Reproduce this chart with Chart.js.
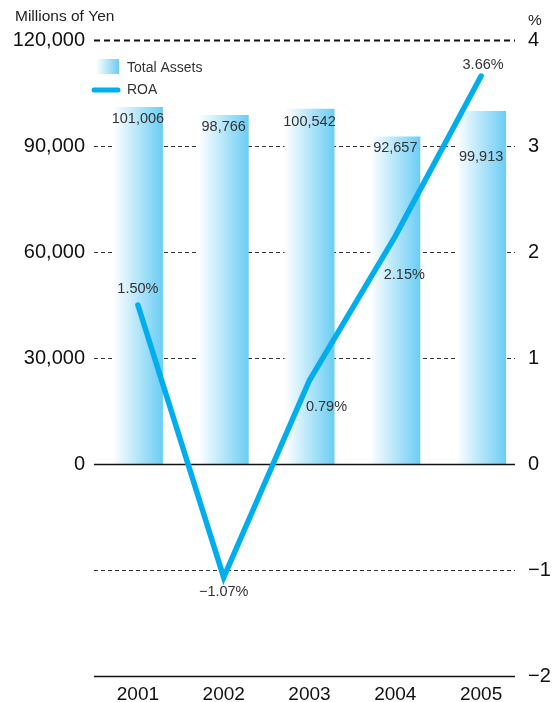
<!DOCTYPE html>
<html>
<head>
<meta charset="utf-8">
<script src="https://cdn.jsdelivr.net/npm/chart.js@4/dist/chart.umd.min.js"></script>
<style>
  html, body { margin: 0; padding: 0; background: #fff; }
  #wrap { width: 555px; height: 702px; position: relative; }
</style>
</head>
<body>
<div id="wrap"><canvas id="c"></canvas></div>
<script>
// Fiscal years and figures
const years = ['2001', '2002', '2003', '2004', '2005'];
const totalAssets = [101006, 98766, 100542, 92657, 99913];   // millions of yen
const roa = [1.50, -1.07, 0.79, 2.15, 3.66];                  // percent
const assetTickStep = 30000;
const roaTickStep = 1;

const FONT = "'Liberation Sans', Arial, Helvetica, sans-serif";
const LINE_BLUE = '#00aeef';
const BAR_PCT = 0.583;

// label nudges (pixels) for the printed values
const barLabelDy = [12, 12, 13, 11, 46];
const roaLabelShift = [[0, -16], [0, 15], [17, 27], [9, 39], [2, -11]];

function barGradient(c) {
  const chart = c.chart;
  const xs = chart.scales && chart.scales.x;
  if (!xs || c.dataIndex === undefined || !xs.width) return '#8fd8f6';
  const cx = xs.getPixelForValue(c.dataIndex);
  const w = xs.width / years.length * BAR_PCT;
  const g = chart.ctx.createLinearGradient(cx - w / 2, 0, cx + w / 2, 0);
  g.addColorStop(0, '#ffffff');
  g.addColorStop(1, '#6acdf4');
  return g;
}

function fmtThousands(v) {
  return v.toLocaleString('en-US');
}

function fmtSigned(v) {
  return v < 0 ? '\u2212' + Math.abs(v) : String(v);
}

const decorPlugin = {
  id: 'decor',
  beforeDatasetsDraw(chart) {
    const ctx = chart.ctx;
    const y = chart.scales.y;
    const left = chart.chartArea.left - 1;
    const right = chart.chartArea.right - 9;
    ctx.save();
    y.ticks.forEach((t) => {
      const py = Math.round(y.getPixelForValue(t.value)) + 0.5;
      if (t.value === 0) return;
      ctx.beginPath();
      if (t.value === y.min) {
        ctx.setLineDash([]);
        ctx.lineWidth = 1.5;
        ctx.strokeStyle = '#111';
      } else if (t.value === y.max) {
        ctx.setLineDash([6, 4]);
        ctx.lineWidth = 2;
        ctx.strokeStyle = '#111';
      } else {
        ctx.setLineDash([4, 3]);
        ctx.lineWidth = 1;
        ctx.strokeStyle = '#333';
      }
      ctx.moveTo(left, py);
      ctx.lineTo(right, py);
      ctx.stroke();
    });
    ctx.restore();
  },
  afterDatasetDraw(chart, args) {
    if (chart.data.datasets[args.index].type !== 'bar') return;
    // zero baseline drawn over the bar bottoms, under the ROA line
    const ctx = chart.ctx;
    const y = chart.scales.y;
    const py = Math.round(y.getPixelForValue(0)) + 0.5;
    ctx.save();
    ctx.beginPath();
    ctx.lineWidth = 1.5;
    ctx.strokeStyle = '#111';
    ctx.moveTo(chart.chartArea.left - 1, py);
    ctx.lineTo(chart.chartArea.right - 9, py);
    ctx.stroke();
    ctx.restore();
  },
  afterDatasetsDraw(chart) {
    const ctx = chart.ctx;
    ctx.save();
    ctx.fillStyle = '#333';
    ctx.textAlign = 'center';
    ctx.textBaseline = 'middle';
    ctx.font = '14.5px ' + FONT;

    const barIdx = chart.data.datasets.findIndex(d => d.type === 'bar');
    const lineIdx = chart.data.datasets.findIndex(d => d.type === 'line');
    chart.getDatasetMeta(barIdx).data.forEach((el, i) => {
      ctx.fillText(fmtThousands(totalAssets[i]), el.x, el.y + barLabelDy[i]);
    });
    chart.getDatasetMeta(lineIdx).data.forEach((el, i) => {
      const s = roaLabelShift[i];
      const txt = (roa[i] < 0 ? '\u2212' + Math.abs(roa[i]).toFixed(2) : roa[i].toFixed(2)) + '%';
      ctx.fillText(txt, el.x + s[0], el.y + s[1]);
    });

    // unit captions
    ctx.fillStyle = '#222';
    ctx.textAlign = 'left';
    ctx.font = '15.5px ' + FONT;
    ctx.fillText('Millions of Yen', 15, 17);
    ctx.fillText('%', 528, 21);

    // legend
    const sw = ctx.createLinearGradient(96, 0, 119, 0);
    sw.addColorStop(0, '#ffffff');
    sw.addColorStop(1, '#6acdf4');
    ctx.fillStyle = sw;
    ctx.fillRect(96, 59, 23, 15);
    ctx.strokeStyle = LINE_BLUE;
    ctx.lineWidth = 5;
    ctx.lineCap = 'round';
    ctx.beginPath();
    ctx.moveTo(94, 90);
    ctx.lineTo(118, 90);
    ctx.stroke();
    ctx.fillStyle = '#333';
    ctx.font = '14px ' + FONT;
    ctx.fillText(chart.data.datasets[barIdx].label, 127, 68);
    ctx.fillText(chart.data.datasets[lineIdx].label, 127, 90);
    ctx.restore();
  }
};

new Chart(document.getElementById('c'), {
  data: {
    labels: years,
    datasets: [
      {
        type: 'line',
        label: 'ROA',
        data: roa,
        yAxisID: 'y2',
        borderColor: LINE_BLUE,
        borderWidth: 5.5,
        borderCapStyle: 'round',
        borderJoinStyle: 'miter',
        pointRadius: 0,
        pointHoverRadius: 0,
        tension: 0,
        fill: false,
        order: 0
      },
      {
        type: 'bar',
        label: 'Total Assets',
        data: totalAssets,
        yAxisID: 'y',
        backgroundColor: barGradient,
        borderWidth: 0,
        barPercentage: BAR_PCT,
        categoryPercentage: 1,
        order: 1
      }
    ]
  },
  options: {
    responsive: true,
    maintainAspectRatio: false,
    animation: false,
    events: [],
    layout: { padding: { top: 40, left: 0, right: 0, bottom: 0 } },
    plugins: {
      legend: { display: false },
      tooltip: { enabled: false }
    },
    scales: {
      x: {
        grid: { display: false, drawTicks: false },
        border: { display: false },
        ticks: { color: '#111', font: { family: FONT, size: 19 }, padding: 7, maxRotation: 0 },
        afterFit(s) { s.height = 26; }
      },
      y: {
        position: 'left',
        min: -2 * assetTickStep,
        max: 4 * assetTickStep,
        grid: { display: false, drawTicks: false },
        border: { display: false },
        ticks: {
          stepSize: assetTickStep,
          color: '#111',
          font: { family: FONT, size: 20 },
          padding: 10,
          callback: (v) => (v < 0 ? '' : fmtThousands(v))
        },
        afterFit(s) { s.width = 95; }
      },
      y2: {
        position: 'right',
        min: -2 * roaTickStep,
        max: 4 * roaTickStep,
        grid: { display: false, drawTicks: false },
        border: { display: false },
        ticks: {
          stepSize: roaTickStep,
          color: '#111',
          font: { family: FONT, size: 20 },
          padding: 4,
          callback: (v) => fmtSigned(v)
        },
        afterFit(s) { s.width = 31; }
      }
    }
  },
  plugins: [decorPlugin]
});
</script>
</body>
</html>
